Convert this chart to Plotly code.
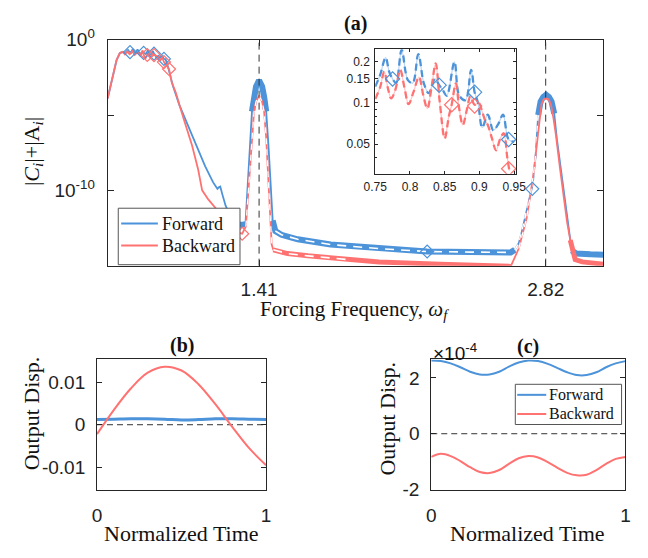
import numpy as np
import plotly.graph_objects as go

# ======================= DATA =======================
# ---- (a) inset: zoom of the low-frequency plateau (amplitude values) ----
inset_fwd_freq = [0.750, 0.757, 0.765, 0.770, 0.775, 0.780, 0.788, 0.797, 0.804, 0.812,
                  0.820, 0.827, 0.836, 0.842, 0.847, 0.853, 0.864, 0.871, 0.880, 0.888,
                  0.893, 0.898, 0.904, 0.912, 0.920, 0.927, 0.934, 0.942, 0.950]
inset_fwd_amp = [0.132, 0.160, 0.215, 0.170, 0.150, 0.140, 0.245, 0.147, 0.140, 0.228,
                 0.139, 0.118, 0.150, 0.135, 0.125, 0.113, 0.200, 0.113, 0.105, 0.175,
                 0.120, 0.100, 0.066, 0.082, 0.063, 0.070, 0.082, 0.054, 0.052]
inset_bwd_freq = [0.750, 0.757, 0.763, 0.768, 0.773, 0.779, 0.786, 0.792, 0.798, 0.805,
                  0.813, 0.819, 0.825, 0.831, 0.837, 0.843, 0.850, 0.856, 0.860, 0.866,
                  0.871, 0.876, 0.882, 0.887, 0.893, 0.899, 0.904, 0.908, 0.912, 0.918,
                  0.924, 0.930, 0.935, 0.940, 0.943]
inset_bwd_amp = [0.107, 0.130, 0.170, 0.130, 0.108, 0.125, 0.175, 0.130, 0.098, 0.120,
                 0.155, 0.115, 0.091, 0.130, 0.195, 0.100, 0.055, 0.080, 0.097, 0.139,
                 0.090, 0.069, 0.090, 0.112, 0.097, 0.100, 0.086, 0.075, 0.069, 0.055,
                 0.045, 0.055, 0.060, 0.040, 0.032]
inset_fwd_diamond_freq = [0.775, 0.842, 0.893, 0.942]
inset_fwd_diamond_amp = [0.150, 0.135, 0.120, 0.054]
inset_bwd_diamond_freq = [0.860, 0.893, 0.942]
inset_bwd_diamond_amp = [0.097, 0.095, 0.033]

# ---- (a) main curves outside the inset range, log10(|C_i|+|A_i|) ----
pre_freq = [0.665, 0.680, 0.695, 0.709, 0.725, 0.740]
pre_log = [-3.9, -3.0, -2.1, -1.35, -0.88, -0.80]

fwd_post_freq = [0.960, 0.970, 0.986, 1.018, 1.058, 1.097, 1.145, 1.184, 1.205, 1.212,
                 1.219, 1.230, 1.245, 1.271, 1.290, 1.303, 1.325, 1.343, 1.353, 1.363,
                 1.375, 1.385, 1.395, 1.410, 1.425, 1.435, 1.445, 1.457, 1.467, 1.477,
                 1.490, 1.520, 1.600, 1.762, 2.000, 2.237, 2.450, 2.648, 2.668, 2.688,
                 2.700, 2.712, 2.727, 2.742, 2.756, 2.770, 2.783, 2.795, 2.808, 2.822,
                 2.836, 2.849, 2.862, 2.875, 2.890, 2.905, 2.920, 2.935, 2.948, 2.970,
                 3.040, 3.103]
fwd_post_log = [-1.70, -2.20, -3.06, -4.34, -5.62, -6.90, -8.40, -9.47, -9.90, -9.80,
                -9.75, -10.30, -11.00, -11.80, -12.15, -12.24, -12.30, -12.24, -9.60, -7.20,
                -4.76, -3.80, -3.10, -2.70, -3.10, -3.80, -4.76, -7.20, -9.60, -12.00,
                -12.70, -12.95, -13.25, -13.60, -13.87, -14.06, -14.10, -14.12, -13.95, -13.50,
                -12.90, -12.20, -11.20, -10.40, -9.60, -7.80, -5.00, -4.10, -3.80, -3.65,
                -3.80, -4.10, -4.90, -6.60, -8.20, -9.80, -11.40, -13.00, -14.00, -14.20,
                -14.25, -14.27]

bwd_post_freq = [0.955, 0.967, 0.980, 1.000, 1.040, 1.080, 1.110, 1.130, 1.160, 1.210,
                 1.250, 1.290, 1.327, 1.345, 1.355, 1.365, 1.375, 1.385, 1.395, 1.410,
                 1.425, 1.435, 1.445, 1.455, 1.465, 1.472, 1.480, 1.550, 1.650, 1.762,
                 1.850, 2.000, 2.300, 2.500, 2.648, 2.688, 2.705, 2.727, 2.743, 2.759,
                 2.771, 2.783, 2.799, 2.810, 2.822, 2.834, 2.846, 2.858, 2.870, 2.890,
                 2.909, 2.925, 2.941, 2.955, 2.965, 3.000, 3.050, 3.103]
bwd_post_log = [-1.70, -1.94, -2.80, -3.50, -5.30, -7.00, -8.60, -10.00, -10.60, -11.40,
                -12.20, -12.75, -12.88, -12.40, -10.50, -8.50, -6.50, -4.80, -4.10, -3.70,
                -4.10, -4.80, -6.50, -9.00, -12.00, -13.60, -13.95, -14.20, -14.35, -14.50,
                -14.60, -14.75, -14.90, -15.00, -15.05, -13.85, -13.00, -11.80, -10.40, -9.00,
                -7.60, -6.30, -4.30, -3.95, -3.90, -3.95, -4.30, -5.20, -6.30, -8.50,
                -10.50, -12.10, -13.30, -14.10, -14.60, -14.75, -14.85, -14.90]

main_fwd_diamond_freq = [0.775, 0.842, 0.893, 0.942, 2.237, 2.754]
main_fwd_diamond_log = [-0.82, -0.87, -0.92, -1.27, -14.06, -9.90]
main_bwd_diamond_freq = [0.860, 0.893, 0.942, 0.967, 1.327]
main_bwd_diamond_log = [-1.01, -1.02, -1.48, -1.94, -12.88]

resonance_freqs = [1.41, 2.82]
main_xtick_labels = ["1.41", "2.82"]
legend_names = ["Forward", "Backward"]

# ---- (b) time responses at low frequency ----
t_b = [0.0, 0.1, 0.2, 0.3, 0.4, 0.5, 0.6, 0.7, 0.8, 0.9, 1.0]
b_fwd = [0.0012, 0.0013, 0.0014, 0.0014, 0.0013, 0.0011, 0.0012, 0.0014, 0.0014, 0.0013, 0.0012]
b_bwd = [-0.0022, 0.0035, 0.0085, 0.0122, 0.0136, 0.0127, 0.0095, 0.0048, -0.0005, -0.0055, -0.0095]

# ---- (c) time responses (units of 1e-4) ----
t_c = [0.0, 0.05, 0.1, 0.15, 0.2, 0.25, 0.3, 0.35, 0.4, 0.45, 0.5,
       0.55, 0.6, 0.65, 0.7, 0.75, 0.8, 0.85, 0.9, 0.95, 1.0]
c_fwd_e4 = [2.62, 2.60, 2.52, 2.38, 2.22, 2.12, 2.12, 2.22, 2.40, 2.55, 2.62,
            2.60, 2.50, 2.35, 2.20, 2.10, 2.10, 2.20, 2.38, 2.52, 2.60]
c_bwd_e4 = [-0.83, -0.72, -0.80, -0.98, -1.20, -1.37, -1.41, -1.30, -1.08, -0.88, -0.80,
            -0.85, -1.02, -1.22, -1.40, -1.49, -1.47, -1.30, -1.08, -0.90, -0.83]

# ======================= STYLE / LAYOUT =======================
W, H = 648, 558
BLUE = "#4d93d9"
RED = "#ff7272"
LBLUE = "#b9d6f2"
LRED = "#ffc4c4"
AX = "#262626"
SANS = "Liberation Sans, Arial, Helvetica, sans-serif"
SERIF = "Liberation Serif, Times New Roman, Times, serif"


def dx(a, b):
    return [a / W, b / W]


def dy(top, bottom):
    return [1 - bottom / H, 1 - top / H]


main_fwd_freq = np.array(pre_freq + inset_fwd_freq + fwd_post_freq)
main_fwd_amp = np.array(list(10 ** np.array(pre_log)) + inset_fwd_amp + list(10 ** np.array(fwd_post_log)))
main_bwd_freq = np.array(pre_freq + inset_bwd_freq + bwd_post_freq)
main_bwd_amp = np.array(list(10 ** np.array(pre_log)) + inset_bwd_amp + list(10 ** np.array(bwd_post_log)))


def seg(x, y, lo, hi):
    m = (x >= lo - 1e-9) & (x <= hi + 1e-9)
    return x[m], y[m]


fig = go.Figure()


def add_line(x, y, color, width, dash="solid", xa="x", ya="y", shape="linear"):
    fig.add_trace(go.Scatter(x=x, y=y, mode="lines", xaxis=xa, yaxis=ya,
                             line=dict(color=color, width=width, dash=dash, shape=shape),
                             showlegend=False, hoverinfo="skip"))


# ---- main (a): forward ----
add_line(main_fwd_freq, main_fwd_amp, BLUE, 1.8)
for lo, hi in [(1.303, 1.343), (1.375, 1.445), (1.477, 2.668), (2.783, 2.862), (2.948, 3.103)]:
    sx, sy = seg(main_fwd_freq, main_fwd_amp, lo, hi)
    add_line(sx, sy, BLUE, 6)
sx, sy = seg(main_fwd_freq, main_fwd_amp, 1.49, 2.648)
add_line(sx, sy, "white", 1.6, dash="9px,7px")
sx, sy = seg(main_fwd_freq, main_fwd_amp, 2.668, 2.783)
add_line(sx, sy, "white", 1.6, dash="6px,5px")

# ---- main (a): backward ----
add_line(main_bwd_freq, main_bwd_amp, RED, 1.8)
for lo, hi in [(1.48, 2.648), (2.941, 3.103)]:
    sx, sy = seg(main_bwd_freq, main_bwd_amp, lo, hi)
    add_line(sx, sy, RED, 5)
sx, sy = seg(main_bwd_freq, main_bwd_amp, 1.48, 1.85)
add_line(sx, sy, "white", 1.6, dash="9px,7px")
sx, sy = seg(main_bwd_freq, main_bwd_amp, 1.345, 1.472)
add_line(sx, sy, "white", 1.2, dash="6px,5px")
sx, sy = seg(main_bwd_freq, main_bwd_amp, 2.688, 2.771)
add_line(sx, sy, "white", 1.2, dash="6px,5px")

fig.add_trace(go.Scatter(x=main_fwd_diamond_freq, y=10 ** np.array(main_fwd_diamond_log),
                         mode="markers", showlegend=False, hoverinfo="skip",
                         marker=dict(symbol="diamond-open", size=10, color=BLUE, line=dict(width=1.2))))
fig.add_trace(go.Scatter(x=main_bwd_diamond_freq, y=10 ** np.array(main_bwd_diamond_log),
                         mode="markers", showlegend=False, hoverinfo="skip",
                         marker=dict(symbol="diamond-open", size=10, color=RED, line=dict(width=1.2))))

# ---- inset ----
add_line(inset_fwd_freq, inset_fwd_amp, LBLUE, 1.2, xa="x2", ya="y2", shape="spline")
add_line(inset_bwd_freq, inset_bwd_amp, LRED, 1.2, xa="x2", ya="y2", shape="spline")
add_line(inset_fwd_freq, inset_fwd_amp, BLUE, 2.3, dash="7px,4px", xa="x2", ya="y2", shape="spline")
add_line(inset_bwd_freq, inset_bwd_amp, RED, 2.3, dash="7px,4px", xa="x2", ya="y2", shape="spline")
fig.add_trace(go.Scatter(x=inset_fwd_diamond_freq, y=inset_fwd_diamond_amp, xaxis="x2", yaxis="y2",
                         mode="markers", showlegend=False, hoverinfo="skip",
                         marker=dict(symbol="diamond-open", size=11, color=BLUE, line=dict(width=1.2))))
fig.add_trace(go.Scatter(x=inset_bwd_diamond_freq, y=inset_bwd_diamond_amp, xaxis="x2", yaxis="y2",
                         mode="markers", showlegend=False, hoverinfo="skip",
                         marker=dict(symbol="diamond-open", size=11, color=RED, line=dict(width=1.2))))

# ---- (b) ----
add_line(t_b, b_fwd, BLUE, 3, xa="x3", ya="y3", shape="spline")
add_line(t_b, b_bwd, RED, 2, xa="x3", ya="y3", shape="spline")

# ---- (c) ----
add_line(t_c, c_fwd_e4, BLUE, 2, xa="x4", ya="y4", shape="spline")
add_line(t_c, c_bwd_e4, RED, 2, xa="x4", ya="y4", shape="spline")

# ---- axes ----
common = dict(showline=True, linecolor=AX, linewidth=1, mirror="ticks", ticks="inside",
              tickcolor=AX, showgrid=False, zeroline=False)
tf19 = dict(family=SANS, size=19, color="#222")
tf12 = dict(family=SANS, size=12, color="#222")

fig.update_layout(
    width=W, height=H, autosize=False, showlegend=False,
    margin=dict(l=0, r=0, t=0, b=0),
    paper_bgcolor="white", plot_bgcolor="white",
    xaxis=dict(domain=dx(99, 612), range=[0.665, 3.103], anchor="y",
               tickmode="array", tickvals=resonance_freqs, ticktext=main_xtick_labels,
               ticklen=6, tickfont=tf19, ticklabelstandoff=7, **common),
    yaxis=dict(domain=dy(28, 264), type="log", range=[-15, 0], anchor="x",
               tickmode="array", tickvals=[1e-15, 1e-10, 1e-5, 1],
               ticktext=["", "10<sup>-10</sup>", "", "10<sup>0</sup>"],
               ticklen=6, tickfont=tf19, ticklabelstandoff=8, **common),
    xaxis2=dict(domain=dx(376, 522), range=[0.75, 0.953], anchor="y2",
                tickmode="array", tickvals=[0.75, 0.8, 0.85, 0.9, 0.95],
                ticktext=["0.75", "0.8", "0.85", "0.9", "0.95"],
                ticklen=3, tickfont=tf12, ticklabelstandoff=2, **common),
    yaxis2=dict(domain=dy(38, 168), type="log", range=[np.log10(0.0303), np.log10(0.247)], anchor="x2",
                tickmode="array", tickvals=[0.05, 0.1, 0.15, 0.2],
                ticktext=["0.05", "0.1", "0.15", "0.2"],
                ticklen=3, tickfont=tf12, ticklabelstandoff=2,
                minor=dict(tickvals=[0.04, 0.06, 0.07, 0.08, 0.09], ticks="inside", ticklen=2, tickcolor=AX),
                **common),
    xaxis3=dict(domain=dx(88, 263), range=[0, 1], anchor="y3",
                tickmode="array", tickvals=[0, 1], ticktext=["0", "1"],
                ticklen=5, tickfont=tf19, ticklabelstandoff=9, **common),
    yaxis3=dict(domain=dy(362, 498), range=[-0.0152, 0.0153], anchor="x3",
                tickmode="array", tickvals=[-0.01, 0, 0.01], ticktext=["-0.01", "0", "0.01"],
                ticklen=5, tickfont=tf19, ticklabelstandoff=7, **common),
    xaxis4=dict(domain=dx(434, 635), range=[0, 1], anchor="y4",
                tickmode="array", tickvals=[0, 1], ticktext=["0", "1"],
                ticklen=5, tickfont=tf19, ticklabelstandoff=9, **common),
    yaxis4=dict(domain=dy(362, 498), range=[-2.0, 2.66], anchor="x4",
                tickmode="array", tickvals=[-2, 0, 2], ticktext=["-2", "0", "2"],
                ticklen=5, tickfont=tf19, ticklabelstandoff=7, **common),
)

# ---- reference lines ----
for f in resonance_freqs:
    fig.add_shape(type="line", xref="x", yref="y domain", x0=f, x1=f, y0=0, y1=1,
                  line=dict(color="#333", width=1, dash="7px,5px"), layer="above")
fig.add_shape(type="line", xref="x3 domain", yref="y3", x0=0, x1=1, y0=0, y1=0,
              line=dict(color="#333", width=1, dash="6px,4px"), layer="below")
fig.add_shape(type="line", xref="x4 domain", yref="y4", x0=0, x1=1, y0=0, y1=0,
              line=dict(color="#333", width=1, dash="6px,4px"), layer="below")


def ann(text, x, y, size, family=SERIF, angle=0, xanchor="center"):
    fig.add_annotation(text=text, x=x / W, y=1 - y / H, xref="paper", yref="paper",
                       showarrow=False, textangle=angle, xanchor=xanchor, yanchor="middle",
                       font=dict(family=family, size=size, color="#111"))


def legend_box(x0, y0, x1, y1, rows, line_x0, line_x1, text_x, size):
    fig.add_shape(type="rect", xref="paper", yref="paper",
                  x0=x0 / W, x1=x1 / W, y0=1 - y1 / H, y1=1 - y0 / H,
                  line=dict(color="#555", width=1), fillcolor="white", layer="above")
    for (name, color, yy) in rows:
        fig.add_shape(type="line", xref="paper", yref="paper",
                      x0=line_x0 / W, x1=line_x1 / W, y0=1 - yy / H, y1=1 - yy / H,
                      line=dict(color=color, width=2), layer="above")
        ann(name, text_x, yy, size, xanchor="left")


legend_box(110, 204, 236, 263, [(legend_names[0], BLUE, 220), (legend_names[1], RED, 243)],
           113, 151, 153, 18)
legend_box(521, 388, 631, 430, [(legend_names[0], BLUE, 399), (legend_names[1], RED, 419)],
           523, 553, 554, 16)

ann("<b>(a)</b>", 355.5, 11, 20)
ann("<b>(b)</b>", 175.5, 347, 20)
ann("<b>(c)</b>", 534, 348, 20)
ann("Forcing Frequency, <i>ω</i><sub><i>f</i></sub>", 355, 310, 21)
ann("|<i>C</i><sub><i>i</i></sub>|+|A<sub><i>i</i></sub>|", 21, 145, 22, angle=-90)
ann("Output Disp.", 20, 418, 22, angle=-90)
ann("Output Disp.", 389, 424, 22, angle=-90)
ann("Normalized Time", 175, 544, 22)
ann("Normalized Time", 534, 544, 22)
ann("×10<sup>-4</sup>", 459, 354, 19, family=SANS)

fig.write_html("out.html")
